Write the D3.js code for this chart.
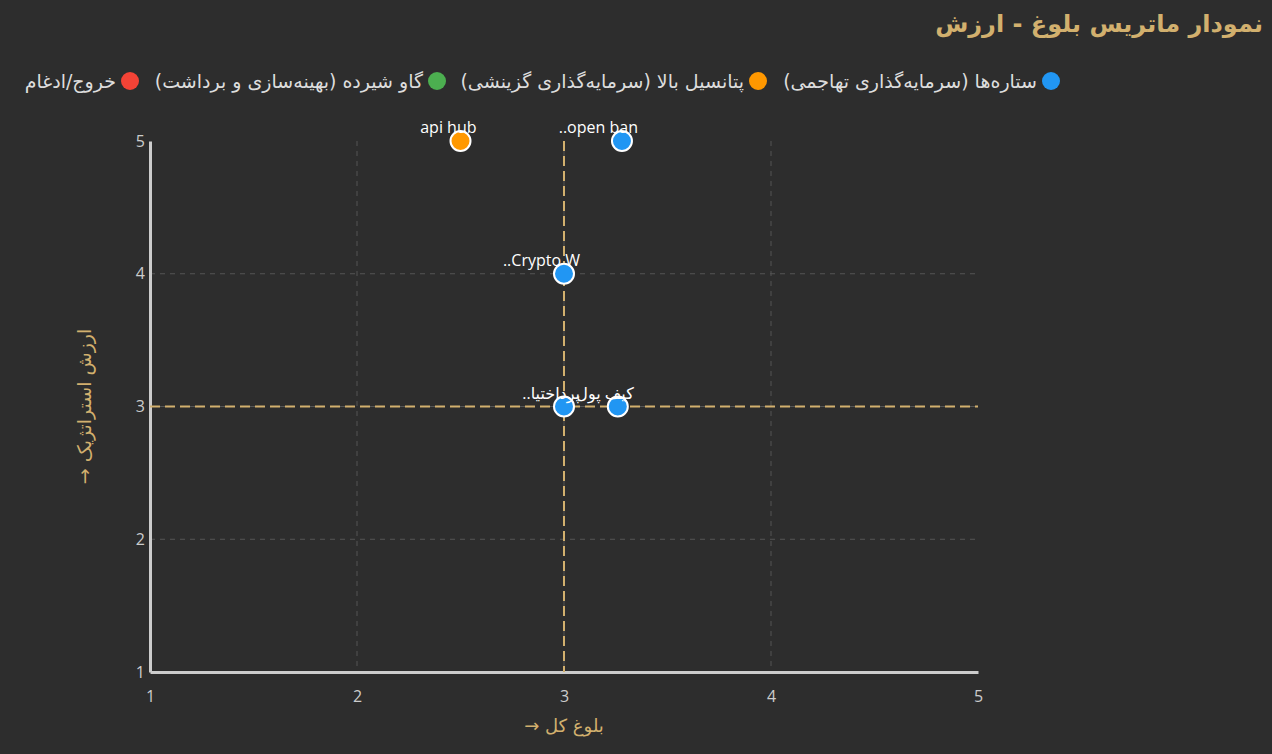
<!DOCTYPE html>
<html><head><meta charset="utf-8">
<script src="https://cdn.jsdelivr.net/npm/d3@7/dist/d3.min.js"></script>
<style>
html,body{margin:0;padding:0;background:#2d2d2d;}
svg{display:block;font-family:"Open Sans","DejaVu Sans",sans-serif;}
</style></head>
<body>
<svg id="c" width="1272" height="754"></svg>
<script>
const titleText = "نمودار ماتریس بلوغ - ارزش";
const xLabel = "بلوغ کل →";
const yLabel = "ارزش استراتژیک →";
const categories = ["ستاره‌ها (سرمایه‌گذاری تهاجمی)", "پتانسیل بالا (سرمایه‌گذاری گزینشی)", "گاو شیرده (بهینه‌سازی و برداشت)", "خروج/ادغام"];
const catColors = ["#2196F3", "#FF9800", "#4CAF50", "#F44336"];
const pointNames = ["api hub", "open ban..", "Crypto W..", "پرداختیا..", "کیف پول"];
const pointX = [2.5, 3.28, 3.0, 3.0, 3.26];
const pointY = [5, 5, 4, 3, 3];
const pointCat = [1, 0, 0, 0, 0];
const xTicks = [1, 2, 3, 4, 5];
const yTicks = [1, 2, 3, 4, 5];
const gridVals = [2, 3, 4];
const thresholdX = 3, thresholdY = 3;

const svg = d3.select("#c");
const tan = "#d2b06e";
const x = d3.scaleLinear().domain([1, 5]).range([150, 978]);
const y = d3.scaleLinear().domain([1, 5]).range([672, 141]);

// title
svg.append("text").attr("x", 1263).attr("y", 32).attr("direction", "rtl")
  .attr("text-anchor", "start").attr("fill", tan).attr("font-size", 24).attr("font-weight", "bold")
  .attr("font-family", "DejaVu Sans").text(titleText);

// legend (right to left)
const legendX = [1051, 758, 437, 130];
categories.forEach((c, i) => {
  svg.append("circle").attr("cx", legendX[i]).attr("cy", 81).attr("r", 9).attr("fill", catColors[i]);
  svg.append("text").attr("x", legendX[i] - 14).attr("y", 88).attr("direction", "rtl")
    .attr("text-anchor", "start").attr("fill", "#dddddd").attr("font-size", 19)
    .attr("font-family", "DejaVu Sans").text(c);
});

// grid
const g = svg.append("g");
g.selectAll(".gv").data(gridVals).join("line")
  .attr("x1", d => x(d)).attr("x2", d => x(d)).attr("y1", y(5)).attr("y2", y(1))
  .attr("stroke", "#555").attr("stroke-width", 1).attr("stroke-dasharray", "5,5");
g.selectAll(".gh").data(gridVals).join("line")
  .attr("y1", d => y(d)).attr("y2", d => y(d)).attr("x1", x(1)).attr("x2", x(5))
  .attr("stroke", "#555").attr("stroke-width", 1).attr("stroke-dasharray", "5,5");

// axes
const xAxis = svg.append("g").attr("transform", `translate(0,${y(1)})`)
  .call(d3.axisBottom(x).tickValues(xTicks).tickSize(0).tickPadding(19).tickFormat(d3.format("d")));
xAxis.select(".domain").attr("stroke", "#cccccc").attr("stroke-width", 3);
xAxis.selectAll("text").attr("fill", "#cccccc").attr("font-size", 16).attr("font-family", "Open Sans");
const yAxis = svg.append("g").attr("transform", `translate(${x(1)},0)`)
  .call(d3.axisLeft(y).tickValues(yTicks).tickSize(0).tickPadding(5).tickFormat(d3.format("d")));
yAxis.select(".domain").attr("stroke", "#cccccc").attr("stroke-width", 3);
yAxis.selectAll("text").attr("fill", "#cccccc").attr("font-size", 16).attr("font-family", "Open Sans");

// quadrant lines
svg.append("line").attr("x1", x(thresholdX)).attr("x2", x(thresholdX)).attr("y1", y(5)).attr("y2", y(1))
  .attr("stroke", tan).attr("stroke-width", 2).attr("stroke-dasharray", "10,5");
svg.append("line").attr("y1", y(thresholdY)).attr("y2", y(thresholdY)).attr("x1", x(1)).attr("x2", x(5))
  .attr("stroke", tan).attr("stroke-width", 2).attr("stroke-dasharray", "10,5");

// axis labels
svg.append("text").attr("x", x(3)).attr("y", 732).attr("direction", "rtl").attr("text-anchor", "middle")
  .attr("fill", tan).attr("font-size", 18).attr("font-family", "DejaVu Sans").text(xLabel);
svg.append("text").attr("transform", `translate(91,${(y(1) + y(5)) / 2}) rotate(-90)`)
  .attr("direction", "rtl").attr("text-anchor", "middle").attr("fill", tan).attr("font-size", 19)
  .attr("font-family", "DejaVu Sans").text(yLabel);

// points
const pts = pointNames.map((n, i) => ({ n, x: pointX[i], y: pointY[i], c: pointCat[i] }));
svg.selectAll(".pt").data(pts).join("circle")
  .attr("cx", d => x(d.x)).attr("cy", d => y(d.y)).attr("r", 10)
  .attr("fill", d => catColors[d.c]).attr("stroke", "#ffffff").attr("stroke-width", 2);
svg.selectAll(".lb").data(pts).join("text")
  .attr("x", d => x(d.x) + 16).attr("y", d => y(d.y) - 8)
  .attr("direction", "rtl").attr("text-anchor", "start")
  .attr("fill", "#ffffff").attr("font-size", 16).text(d => d.n);
</script>
</body></html>
